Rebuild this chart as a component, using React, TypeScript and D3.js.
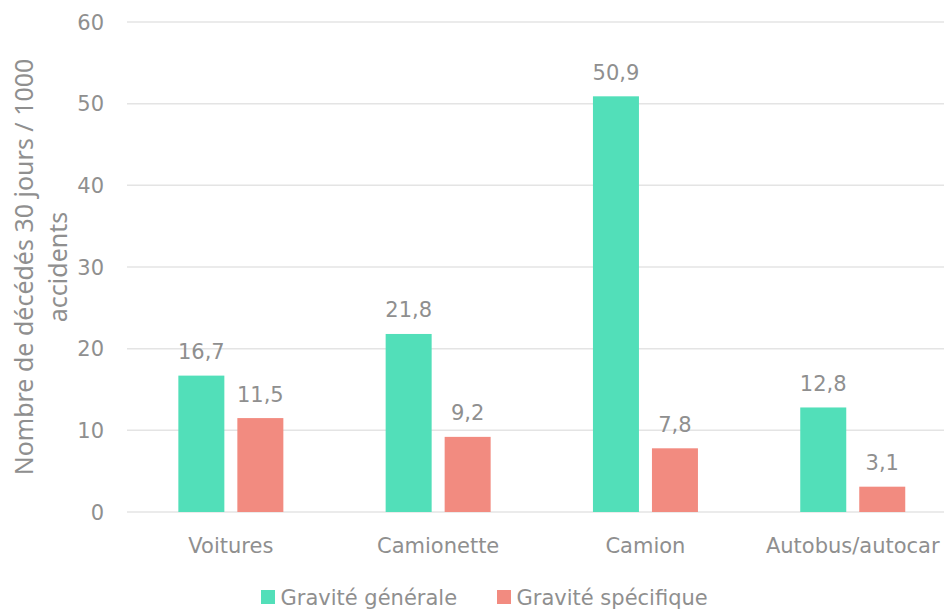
import React from "react";
import * as d3 from "d3";

const categories = ["Voitures", "Camionette", "Camion", "Autobus/autocar"];
const generale = [16.7, 21.8, 50.9, 12.8];
const specifique = [11.5, 9.2, 7.8, 3.1];
const seriesNames = ["Gravité générale", "Gravité spécifique"];
const yTicks = [0, 10, 20, 30, 40, 50, 60];

const W = 944, H = 610;
const FONT = "'DejaVu Sans', sans-serif";
const TITLE_FONT = "'Noto Sans', 'Open Sans', sans-serif";
const GRAY = "#8f8f8f";
const COLORS = ["#52dfb9", "#f28b80"];

export default function App() {
  const x = d3.scaleBand<string>().domain(categories).range([127.2, 956.4]).paddingInner(0).paddingOuter(0);
  const y = d3.scaleLinear().domain([0, 60]).range([512, 22]);
  const barW = 46, gap = 13;
  const fmt = (v: number) => v.toFixed(1).replace(".", ",");
  const series = [generale, specifique];
  return (
    <svg width={W} height={H} style={{ position: "absolute", left: 0, top: 0, background: "#fff" }} fontFamily={FONT}>
      {yTicks.map((t) => (
        <g key={t}>
          <line x1={127} x2={W} y1={y(t)} y2={y(t)} stroke="#e4e4e4" strokeWidth={1.5} />
          <text x={104} y={y(t)} dy="0.36em" textAnchor="end" fontSize={21} fill={GRAY}>{t}</text>
        </g>
      ))}
      <text transform={`translate(33,${y(30)}) rotate(-90)`} textAnchor="middle" fontSize={25} fontFamily={TITLE_FONT} fill={GRAY}>Nombre de décédés 30 jours / 1000</text>
      <text transform={`translate(67,${y(30)}) rotate(-90)`} textAnchor="middle" fontSize={25} fontFamily={TITLE_FONT} fill={GRAY}>accidents</text>
      {categories.map((c, i) => {
        const cx = (x(c) as number) + x.bandwidth() / 2;
        return (
          <g key={c}>
            {series.map((s, j) => {
              const bx = j === 0 ? cx - gap / 2 - barW : cx + gap / 2;
              return (
                <g key={j}>
                  <rect x={bx} y={y(s[i])} width={barW} height={y(0) - y(s[i])} fill={COLORS[j]} />
                  <text x={bx + barW / 2} y={y(s[i]) - 16.5} textAnchor="middle" fontSize={21} fill={GRAY}>{fmt(s[i])}</text>
                </g>
              );
            })}
            <text x={cx} y={552.5} textAnchor="middle" fontSize={21} fill={GRAY}>{c}</text>
          </g>
        );
      })}
      {seriesNames.map((n, j) => {
        const lx = j === 0 ? 261 : 497;
        return (
          <g key={n}>
            <rect x={lx} y={590} width={14} height={14} fill={COLORS[j]} />
            <text x={lx + 19.5} y={605} fontSize={21} fill={GRAY}>{n}</text>
          </g>
        );
      })}
    </svg>
  );
}
